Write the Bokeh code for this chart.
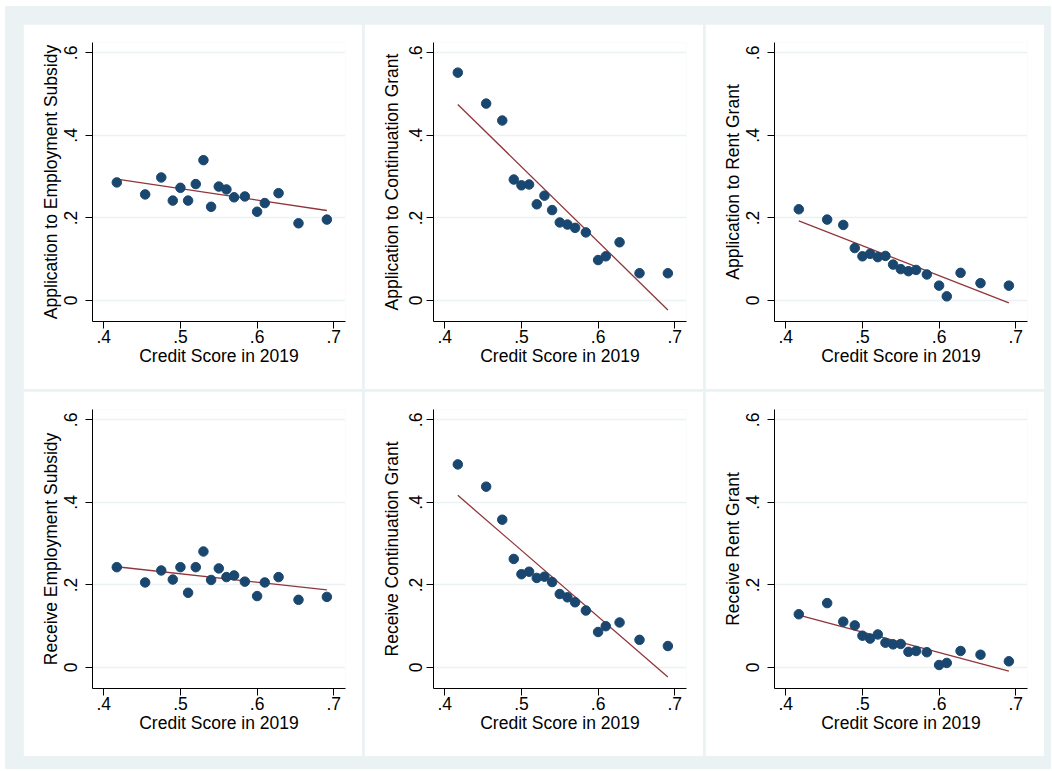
from bokeh.plotting import figure
from bokeh.layouts import gridplot, column
from bokeh.models import FixedTicker, CustomJSTickFormatter, Range1d
from bokeh.embed import file_html
from bokeh.resources import INLINE

# ---- data (binned scatter, x = credit score bins) ----
credit_score = [0.417, 0.454, 0.475, 0.490, 0.500, 0.510, 0.520, 0.530, 0.540,
                0.550, 0.560, 0.570, 0.584, 0.600, 0.610, 0.628, 0.654, 0.691]

app_employment = [0.286, 0.257, 0.298, 0.242, 0.273, 0.242, 0.282, 0.340, 0.227,
                  0.276, 0.269, 0.250, 0.252, 0.215, 0.236, 0.260, 0.187, 0.196]
app_continuation = [0.552, 0.477, 0.436, 0.293, 0.279, 0.281, 0.233, 0.254, 0.219,
                    0.189, 0.184, 0.176, 0.165, 0.098, 0.107, 0.141, 0.066, 0.066]
app_rent = [0.221, 0.196, 0.183, 0.127, 0.107, 0.113, 0.105, 0.108, 0.087,
            0.076, 0.071, 0.074, 0.063, 0.036, 0.010, 0.067, 0.042, 0.036]
rec_employment = [0.243, 0.206, 0.235, 0.213, 0.243, 0.181, 0.243, 0.281, 0.212,
                  0.240, 0.219, 0.223, 0.208, 0.173, 0.206, 0.219, 0.164, 0.171]
rec_continuation = [0.492, 0.438, 0.358, 0.263, 0.226, 0.232, 0.217, 0.220, 0.207,
                    0.178, 0.170, 0.158, 0.138, 0.086, 0.100, 0.109, 0.067, 0.052]
rec_rent = [0.129, 0.156, 0.111, 0.102, 0.077, 0.070, 0.080, 0.060, 0.056,
            0.057, 0.038, 0.040, 0.037, 0.006, 0.011, 0.040, 0.031, 0.015]

# fitted-line end points
fit_x = [0.417, 0.691]
fit_app_employment = [0.294, 0.218]
fit_app_continuation = [0.475, -0.023]
fit_app_rent = [0.193, -0.006]
fit_rec_employment = [0.244, 0.188]
fit_rec_continuation = [0.417, -0.023]
fit_rec_rent = [0.127, -0.009]

x_ticks = [0.4, 0.5, 0.6, 0.7]
y_ticks = [0.0, 0.2, 0.4, 0.6]
x_title = "Credit Score in 2019"
y_titles = ["Application to Employment Subsidy", "Application to Continuation Grant",
            "Application to Rent Grant", "Receive Employment Subsidy",
            "Receive Continuation Grant", "Receive Rent Grant"]
series = [app_employment, app_continuation, app_rent,
          rec_employment, rec_continuation, rec_rent]
fits = [fit_app_employment, fit_app_continuation, fit_app_rent,
        fit_rec_employment, fit_rec_continuation, fit_rec_rent]

FONT = "Liberation Sans"
FS = "17.5px"
NAVY = "#1a476f"
MAROON = "#90353b"
LIGHT = "#eaf2f3"

fmt = CustomJSTickFormatter(code="""
if (Math.abs(tick) < 1e-9) return '0';
return tick.toFixed(1).replace(/^0/, '').replace(/^-0/, '-');
""")

figs = []
for i, (title, ys, fit) in enumerate(zip(y_titles, series, fits)):
    col = i % 3
    p = figure(width=339, height=365, output_backend="svg", toolbar_location=None,
               x_range=Range1d(0.3853, 0.7153), y_range=Range1d(-0.0509, 0.625),
               min_border_left=69, min_border_right=17, min_border_top=18,
               min_border_bottom=68, border_fill_color="white",
               background_fill_color="white", outline_line_color=None)
    p.line(fit_x, fit, line_color=MAROON, line_width=1.3)
    p.scatter(credit_score, ys, size=9.5, fill_color=NAVY, line_color=NAVY)

    p.xaxis.ticker = FixedTicker(ticks=x_ticks)
    p.yaxis.ticker = FixedTicker(ticks=y_ticks)
    p.xaxis.formatter = fmt
    p.yaxis.formatter = fmt
    p.xaxis.axis_label = x_title
    p.yaxis.axis_label = title
    p.yaxis.major_label_orientation = "vertical"
    for ax in (p.xaxis[0], p.yaxis[0]):
        ax.axis_line_color = "black"
        ax.axis_line_width = 1
        ax.major_tick_line_color = "black"
        ax.major_tick_out = 7
        ax.major_tick_in = 0
        ax.minor_tick_line_color = None
        ax.major_label_text_font = FONT
        ax.major_label_text_font_size = FS
        ax.major_label_text_color = "black"
        ax.axis_label_text_font = FONT
        ax.axis_label_text_font_size = FS
        ax.axis_label_text_font_style = "normal"
        ax.axis_label_text_color = "black"
    p.xaxis.major_label_standoff = 1
    p.xaxis.axis_label_standoff = 0
    if col == 1:
        p.yaxis.major_label_standoff = 4
        p.yaxis.axis_label_standoff = 5
    else:
        p.yaxis.major_label_standoff = 8
        p.yaxis.axis_label_standoff = 1
    p.xgrid.grid_line_color = None
    p.ygrid.grid_line_color = LIGHT
    p.ygrid.grid_line_width = 1.5
    figs.append(p)

grid = gridplot([figs[0:3], figs[3:6]], toolbar_location=None)
grid.spacing = 2
grid.margin = (18, 7, 13, 18)
outer = column(grid, styles={"background-color": LIGHT})
outer.margin = (6, 0, 0, 5)

open("out.html", "w").write(file_html(outer, INLINE))
